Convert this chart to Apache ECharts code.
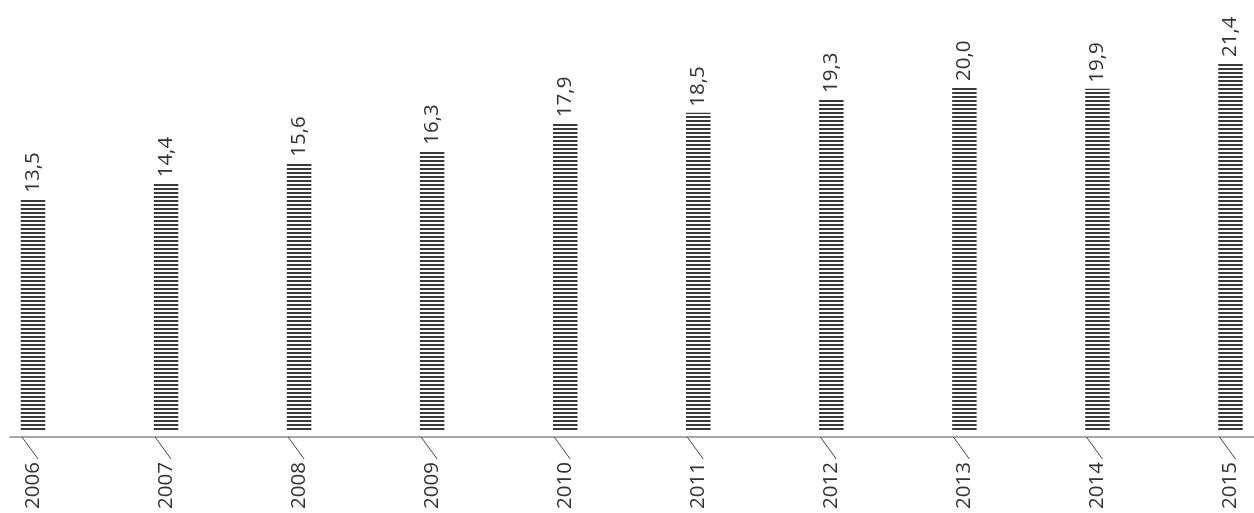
<!DOCTYPE html>
<html>
<head>
<meta charset="utf-8">
<style>html,body{margin:0;padding:0;background:#fff;}#c{width:1254px;height:513px;}</style>
<script src="https://cdn.jsdelivr.net/npm/echarts@6/dist/echarts.min.js"></script>
</head>
<body>
<div id="c"></div>
<script>
var years = ['2006','2007','2008','2009','2010','2011','2012','2013','2014','2015'];
var values = [13.5, 14.4, 15.6, 16.3, 17.9, 18.5, 19.3, 20.0, 19.9, 21.4];

var pc = document.createElement('canvas');
pc.width = 4; pc.height = 4;
var ctx = pc.getContext('2d');
ctx.fillStyle = '#ffffff'; ctx.fillRect(0,0,4,4);
ctx.fillStyle = '#3a3a3a'; ctx.fillRect(0,0,4,2);

var chart = echarts.init(document.getElementById('c'), null, {renderer:'canvas'});
var fontFam = '"Open Sans", "Noto Sans", sans-serif';
chart.setOption({
  animation: false,
  grid: [
    {left: 33, right: 23.5, top: 1, bottom: 82},
    {left: 10, right: 0, bottom: 76, height: 0}
  ],
  xAxis: [
    {type: 'category', data: years, gridIndex: 0, boundaryGap: false,
     axisLine: {show: false}, axisTick: {show: false},
     axisLabel: {rotate: 90, margin: 31, fontSize: 20.5, color: '#333', fontFamily: fontFam}},
    {type: 'value', gridIndex: 1, min: 0, max: 1,
     axisLine: {show: true, lineStyle: {color: '#8a8a8a', width: 1.5}},
     axisTick: {show: false}, axisLabel: {show: false}, splitLine: {show: false}}
  ],
  yAxis: [
    {type: 'value', gridIndex: 0, min: 0, max: 25, show: false},
    {type: 'value', gridIndex: 1, show: false}
  ],
  series: [
    {type: 'bar', xAxisIndex: 0, yAxisIndex: 0, data: values, barWidth: 24.5,
     itemStyle: {color: {image: pc, repeat: 'repeat'}},
     label: {show: true, position: 'top', rotate: 90, align: 'left', verticalAlign: 'middle',
       distance: 6, fontSize: 20.5, color: '#333', fontFamily: fontFam,
       formatter: function(p){ return p.value.toFixed(1).replace('.', ','); }}},
    {type: 'custom', xAxisIndex: 0, yAxisIndex: 0, clip: false, silent: true,
     data: values.map(function(v,i){ return [i, 0]; }),
     renderItem: function(params, api){
       var p = api.coord([api.value(0), 0]);
       return {type: 'line', shape: {x1: p[0]-11, y1: p[1]+6, x2: p[0]+5, y2: p[1]+28},
         style: {stroke: '#444', lineWidth: 1}};
     }}
  ]
});
</script>
</body>
</html>
